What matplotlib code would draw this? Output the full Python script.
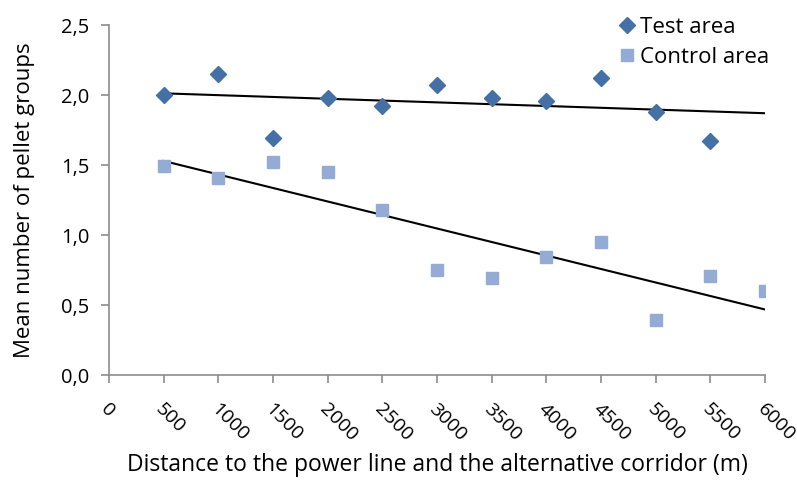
import numpy as np
import matplotlib
matplotlib.use("Agg")
import matplotlib.pyplot as plt
from matplotlib.ticker import FuncFormatter
from matplotlib.transforms import ScaledTranslation

# ── Data ─────────────────────────────────────────────────────────────────────
test_dist = [500, 1000, 1500, 2000, 2500, 3000, 3500, 4000, 4500, 5000, 5500]
test_mean = [2.00, 2.15, 1.69, 1.98, 1.92, 2.07, 1.98, 1.96, 2.12, 1.88, 1.67]

ctrl_dist = [500, 1000, 1500, 2000, 2500, 3000, 3500, 4000, 4500, 5000, 5500, 6000]
ctrl_mean = [1.49, 1.41, 1.52, 1.45, 1.18, 0.75, 0.69, 0.84, 0.95, 0.39, 0.71, 0.60]

x_ticks = [0, 500, 1000, 1500, 2000, 2500, 3000, 3500, 4000, 4500, 5000, 5500, 6000]
y_ticks = [0.0, 0.5, 1.0, 1.5, 2.0, 2.5]

# ── Style ────────────────────────────────────────────────────────────────────
BLUE = "#4470A6"
LIGHT = "#93ABD5"
AXIS = "#8C8C8C"

plt.rcParams.update({
    "font.family": "Open Sans",
    "figure.dpi": 100,
})

fig = plt.figure(figsize=(7.97, 4.84))
ax = fig.add_axes([109 / 797, 1 - 375 / 484, (765 - 109) / 797, (375 - 25) / 484])

ax.plot(test_dist, test_mean, ls="none", marker="D", ms=8, color=BLUE, label="Test area")
ax.plot(ctrl_dist, ctrl_mean, ls="none", marker="s", ms=8.5, color=LIGHT, label="Control area")

# linear trendlines, drawn from 500 to 6000 m
xs = np.array([500, 6000])
for d, m in [(test_dist, test_mean), (ctrl_dist, ctrl_mean)]:
    k, b = np.polyfit(d, m, 1)
    ax.plot(xs, k * xs + b, color="black", lw=1.5, zorder=1)

ax.set_xlim(0, 6000)
ax.set_ylim(0, 2.5)
ax.set_xticks(x_ticks)
ax.set_yticks(y_ticks)
ax.yaxis.set_major_formatter(FuncFormatter(lambda v, p: f"{v:.1f}".replace(".", ",")))

for s in ["top", "right"]:
    ax.spines[s].set_visible(False)
for s in ["left", "bottom"]:
    ax.spines[s].set_color(AXIS)
    ax.spines[s].set_linewidth(1.2)
ax.tick_params(axis="both", colors=AXIS, length=6, width=1.2, labelcolor="black", labelsize=14)
ax.tick_params(axis="x", pad=17)
ax.tick_params(axis="y", pad=8, labelsize=14.5)
shift = ScaledTranslation(-5 / 100, 0, fig.dpi_scale_trans)
for lab in ax.get_xticklabels():
    lab.set_rotation(-45)
    lab.set_rotation_mode("anchor")
    lab.set_ha("left")
    lab.set_va("center")
    lab.set_transform(lab.get_transform() + shift)

ax.set_xlabel("Distance to the power line and the alternative corridor (m)", fontsize=16.5, labelpad=6)
ax.set_ylabel("Mean number of pellet groups", fontsize=16, labelpad=19)

ax.legend(loc="upper left", bbox_to_anchor=(606 / 797, 1 - 8 / 484), bbox_transform=fig.transFigure,
          frameon=False, fontsize=16, handletextpad=0.05, handlelength=1.1, labelspacing=0.4,
          borderaxespad=0)

fig.savefig("out.png", dpi=100)
